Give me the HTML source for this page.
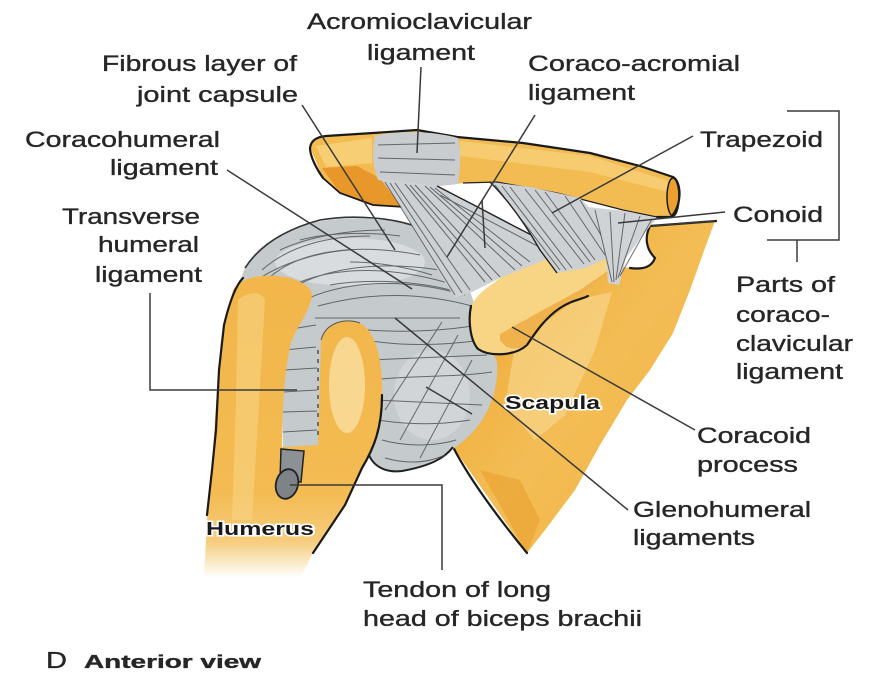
<!DOCTYPE html>
<html><head><meta charset="utf-8"><style>
html,body{margin:0;padding:0;background:#fff;width:871px;height:675px;overflow:hidden}
svg{display:block}
text{font-family:"Liberation Sans",Arial,sans-serif;fill:#262626;font-size:22px;stroke:#262626;stroke-width:0.35px}
.b{font-weight:bold;font-size:18px;stroke:#fff;stroke-width:3px;paint-order:stroke;fill:#1a1a1a}
.ld{stroke:#3a3a3a;stroke-width:1.5;fill:none}
.fb{stroke:#4a4d50;stroke-width:1;fill:none;opacity:.8}
.ol{stroke:#1a1a1a;stroke-width:2.2;fill:none;stroke-linejoin:round;stroke-linecap:round}
</style></head><body>
<svg width="871" height="675" viewBox="0 0 871 675" xmlns="http://www.w3.org/2000/svg">
<defs>
 <linearGradient id="hum" x1="0" y1="270" x2="0" y2="578" gradientUnits="userSpaceOnUse">
  <stop offset="0" stop-color="#f2b64a"/><stop offset="0.72" stop-color="#f3bb52"/><stop offset="0.88" stop-color="#f6cc7c"/><stop offset="1" stop-color="#ffffff"/>
 </linearGradient>
 <linearGradient id="scap" x1="460" y1="300" x2="700" y2="480" gradientUnits="userSpaceOnUse">
  <stop offset="0" stop-color="#efa934"/><stop offset="0.5" stop-color="#f3bd55"/><stop offset="1" stop-color="#f2b548"/>
 </linearGradient>
</defs>

<!-- Scapula -->
<path d="M715,221 L690,224 L650,226 C645,236 645,248 655,258 C652,266 645,270 630,268 L610,265 L560,290 L520,318 L480,350 L470,400 L453,447 L490,500 L527,553 L545,530 L575,490 L600,445 L627,400 L650,370 L673,333 L690,290 L705,248 Z" fill="url(#scap)"/>
<path d="M515,345 L575,300 L612,292 L595,350 L565,415 L535,440 L505,405 Z" fill="#f8d78f" opacity=".65"/>
<path d="M480,470 L520,480 L540,520 L527,553 Z" fill="#eaa030" opacity=".6"/>
<path class="ol" d="M453,447 C470,480 500,520 527,553"/>
<path class="ol" d="M716,221 L650,226 C645,236 645,248 655,258 C652,266 645,270 630,268" stroke-width="1.8"/>

<!-- Capsule -->
<path d="M240,290 C240,262 262,240 300,226 C335,215 385,216 420,228 C445,238 460,255 468,285 L483,330 L497,362 C499,388 489,415 472,433 C455,450 430,466 400,472 C383,474 373,466 368,452 L360,448 L320,450 L283,452 L280,330 Z" fill="#c5cacd"/>
<ellipse cx="350" cy="262" rx="75" ry="24" fill="#dde1e3" opacity=".75"/>
<ellipse cx="432" cy="395" rx="38" ry="45" fill="#d6dadc" opacity=".7"/>
<path d="M245,268 C262,242 290,228 320,220 C355,214 395,218 420,228" stroke="#333" stroke-width="1.6" fill="none"/>
<path d="M368,452 C372,466 385,473 402,471 C430,466 445,458 453,447" stroke="#222" stroke-width="2" fill="none"/>
<g class="fb">
<path d="M252,300 C275,255 340,240 420,255"/><path d="M258,320 C290,272 360,258 440,270"/>
<path d="M270,300 C310,266 380,262 455,285"/><path d="M300,302 C340,282 400,276 465,295"/>
<path d="M318,306 C370,292 420,292 472,306"/><path d="M300,240 C330,232 370,232 400,236"/>
<path d="M350,262 C380,262 410,268 432,275"/><path d="M315,318 L460,318"/>
<path d="M262,270 C290,245 330,236 370,236"/><path d="M280,250 C310,236 350,230 385,230"/>
<path d="M330,285 C370,278 420,282 450,290"/><path d="M250,285 C280,262 320,252 350,250"/>
<path d="M365,340 C400,346 440,346 482,340"/><path d="M370,360 L487,355"/>
<path d="M372,380 C410,375 450,378 492,372"/><path d="M375,400 L482,405"/>
<path d="M378,420 C410,425 440,425 470,420"/><path d="M382,440 C410,448 440,445 456,440"/>
<path d="M385,458 C410,465 430,462 445,455"/><path d="M368,330 C410,333 450,330 478,325"/>
<path d="M458,335 L400,440"/><path d="M472,360 L420,458"/><path d="M442,322 L385,410"/>
<path d="M285,330 L316,325"/><path d="M284,350 L316,347"/><path d="M284,370 L317,368"/>
<path d="M283,392 L317,390"/><path d="M283,412 L317,411"/><path d="M283,432 L317,430"/>
</g>

<!-- Humerus -->
<path d="M233,290 C240,278 262,272 290,278 C303,282 312,288 312,295 C310,312 298,324 291,343 C285,368 282,405 282,447 L318,445 L321,340 C326,322 345,318 360,323 C376,332 383,360 382,395 C382,428 374,448 362,468 L345,505 L313,553 L300,578 L204,578 L207,520 L213,450 L217,390 L221,340 Z" fill="url(#hum)"/>
<path d="M238,300 C250,290 262,292 265,300 L258,420 L252,520 L232,520 L236,400 Z" fill="#f8d483" opacity=".6"/>
<ellipse cx="347" cy="385" rx="18" ry="48" fill="#f9dc9c" opacity=".85"/>
<path class="ol" d="M243,278 C236,285 230,300 224,325 L219,370 L216,430 L212,470 L207,515"/>
<path class="ol" d="M382,395 C382,428 374,448 362,468 L345,505 L313,553"/>
<path d="M321,340 C326,322 345,318 360,323" stroke="#555" stroke-width="1" fill="none"/>
<path d="M318,350 L318,440" stroke="#333" stroke-width="1.2" stroke-dasharray="4 5" fill="none"/>

<!-- Tendon -->
<path d="M281,449 L304,451 L301,482 L280,480 Z" fill="#8b9195" stroke="#222" stroke-width="1.5"/>
<ellipse cx="287" cy="484" rx="11" ry="15" transform="rotate(15 287 484)" fill="#7d8387" stroke="#222" stroke-width="1.8"/>

<!-- Coracoid -->
<path d="M470,318 C468,303 480,292 495,282 C515,266 535,257 560,248 L595,233 L622,228 C632,238 628,255 612,268 C598,282 580,298 560,308 C545,318 535,333 527,345 C515,356 490,357 478,349 C471,341 471,330 470,318 Z" fill="#f7d585"/>
<path d="M500,334 C525,320 550,306 580,290 L612,268 C598,282 580,298 560,308 C545,318 535,333 527,345 C515,352 505,348 500,340 Z" fill="#eda53a" opacity=".75"/>
<path class="ol" d="M471,306 C468,320 470,340 478,349 C490,357 515,356 527,345 C535,333 545,318 560,308 C572,300 580,300 588,296"/>

<!-- Clavicle / acromion -->
<path d="M310,148 C311,140 317,137 326,136 L373,133 L417,130 L457,137 L523,143 L590,153 L640,166 L673,177 C682,182 682,206 671,217 L657,217 L623,210 L557,193 L497,182 L463,183 L440,186 L405,207 L373,205 L340,193 L323,178 Z" fill="#f3bc52"/>
<path d="M322,168 L357,166 L395,186 L405,207 L373,205 L340,193 Z" fill="#e8982a"/>
<path d="M316,146 L372,138 L372,163 L326,167 Z" fill="#f8d27c" opacity=".8"/>
<path d="M460,141 L590,156 L668,181 L668,192 L590,172 L460,156 Z" fill="#f8d27c" opacity=".7"/>
<ellipse cx="673" cy="197" rx="6" ry="19" fill="#e9a030" stroke="#1a1a1a" stroke-width="1.5"/>
<path class="ol" d="M323,178 C316,168 310,156 310,148 C311,140 317,137 326,136 L373,133 L417,130 L457,137 L523,143 L590,153 L640,166 L673,177 C682,182 682,206 671,217 L657,217"/>
<path d="M323,178 L340,193 L373,205 L405,207" stroke="#1a1a1a" stroke-width="1.8" fill="none"/>
<path d="M657,217 L623,210 L557,193 L497,182 L463,183" stroke="#222" stroke-width="1.2" fill="none"/>

<!-- AC ligament -->
<path d="M375,136 C395,131 430,130 458,138 C462,155 460,170 458,184 C430,188 400,186 378,180 C372,165 372,150 375,136 Z" fill="#c9cdd0"/>
<g class="fb"><path d="M378,145 L455,143"/><path d="M378,158 L455,160"/><path d="M380,172 L455,175"/></g>

<!-- Coraco-acromial ligament -->
<path d="M380,178 L437,186 L470,203 L510,224 L545,242 L558,253 L540,262 L500,278 L472,292 L455,298 L440,275 L420,240 L400,205 Z" fill="#cdd1d3"/>
<g class="fb">
<path d="M385,182 L455,295"/><path d="M395,183 L470,290"/><path d="M405,184 L485,282"/>
<path d="M415,185 L500,277"/><path d="M425,186 L515,270"/><path d="M435,188 L530,262"/><path d="M440,195 L545,250"/>
<path d="M390,183 L462,293"/><path d="M410,185 L492,280"/><path d="M430,187 L522,266"/>
</g>
<path d="M437,186 L470,203 L510,224 L545,242" stroke="#222" stroke-width="1.4" fill="none"/>

<!-- Trapezoid -->
<path d="M490,182 L530,187 L580,198 L595,214 L608,240 L612,256 L585,268 L557,273 L540,250 L523,220 L505,197 Z" fill="#cdd1d3"/>
<g class="fb">
<path d="M495,185 L560,270"/><path d="M510,187 L572,268"/><path d="M525,189 L584,264"/>
<path d="M545,192 L595,260"/><path d="M565,196 L605,255"/><path d="M580,200 L610,250"/>
<path d="M502,186 L566,270"/><path d="M535,190 L590,262"/>
</g>
<path d="M490,182 C505,197 523,220 540,250 L557,273" stroke="#222" stroke-width="1.4" fill="none"/>

<!-- Conoid -->
<path d="M588,207 L625,211 L657,218 L642,236 L626,258 L619,285 L608,283 L606,255 L600,230 Z" fill="#cfd3d5"/>
<g class="fb">
<path d="M595,210 L612,282"/><path d="M610,212 L614,282"/><path d="M625,213 L616,280"/>
<path d="M640,216 L618,278"/><path d="M652,219 L620,276"/>
</g>

<!-- Leader lines -->
<g class="ld">
<path d="M421,67 L417,153"/>
<path d="M302,105 L395,250"/>
<path d="M227,170 L412,289"/>
<path d="M150,293 L150,390 L297,390"/>
<path d="M535,115 L447,257"/>
<path d="M482,200 L485,248"/>
<path d="M693,136 L552,213"/>
<path d="M725,212 L618,223"/>
<path d="M715,221 L650,226"/>
<path d="M512,327 L695,430"/>
<path d="M395,318 L628,510"/>
<path d="M426,387 L472,414"/>
<path d="M290,485 L442,485 L442,570"/>
<path d="M787,111 L839,111 L839,240 L767,240"/>
<path d="M797,240 L797,262"/>
</g>

<!-- Labels -->
<text x="307" y="29" textLength="225" lengthAdjust="spacingAndGlyphs">Acromioclavicular</text>
<text x="367" y="60" textLength="108" lengthAdjust="spacingAndGlyphs">ligament</text>
<text x="102" y="71" textLength="195" lengthAdjust="spacingAndGlyphs">Fibrous layer of</text>
<text x="137" y="102" textLength="161" lengthAdjust="spacingAndGlyphs">joint capsule</text>
<text x="528" y="71" textLength="212" lengthAdjust="spacingAndGlyphs">Coraco-acromial</text>
<text x="528" y="100" textLength="107" lengthAdjust="spacingAndGlyphs">ligament</text>
<text x="25" y="147" textLength="195" lengthAdjust="spacingAndGlyphs">Coracohumeral</text>
<text x="110" y="175" textLength="108" lengthAdjust="spacingAndGlyphs">ligament</text>
<text x="700" y="147" textLength="123" lengthAdjust="spacingAndGlyphs">Trapezoid</text>
<text x="62" y="224" textLength="138" lengthAdjust="spacingAndGlyphs">Transverse</text>
<text x="733" y="222" textLength="90" lengthAdjust="spacingAndGlyphs">Conoid</text>
<text x="98" y="252" textLength="101" lengthAdjust="spacingAndGlyphs">humeral</text>
<text x="95" y="282" textLength="107" lengthAdjust="spacingAndGlyphs">ligament</text>
<text x="736" y="292" textLength="99" lengthAdjust="spacingAndGlyphs">Parts of</text>
<text x="736" y="322" textLength="94" lengthAdjust="spacingAndGlyphs">coraco-</text>
<text x="736" y="351" textLength="117" lengthAdjust="spacingAndGlyphs">clavicular</text>
<text x="736" y="379" textLength="107" lengthAdjust="spacingAndGlyphs">ligament</text>
<text x="697" y="443" textLength="114" lengthAdjust="spacingAndGlyphs">Coracoid</text>
<text x="697" y="472" textLength="101" lengthAdjust="spacingAndGlyphs">process</text>
<text x="633" y="517" textLength="178" lengthAdjust="spacingAndGlyphs">Glenohumeral</text>
<text x="633" y="545" textLength="122" lengthAdjust="spacingAndGlyphs">ligaments</text>
<text x="363" y="597" textLength="188" lengthAdjust="spacingAndGlyphs">Tendon of long</text>
<text x="363" y="626" textLength="279" lengthAdjust="spacingAndGlyphs">head of biceps brachii</text>
<text x="46" y="668" textLength="21" lengthAdjust="spacingAndGlyphs" style="font-size:23px">D</text>
<text x="84" y="668" textLength="177" lengthAdjust="spacingAndGlyphs" style="font-weight:bold;font-size:18px">Anterior view</text>
<text class="b" x="505" y="409" textLength="95" lengthAdjust="spacingAndGlyphs">Scapula</text>
<text class="b" x="206" y="535" textLength="108" lengthAdjust="spacingAndGlyphs">Humerus</text>
</svg>
</body></html>
